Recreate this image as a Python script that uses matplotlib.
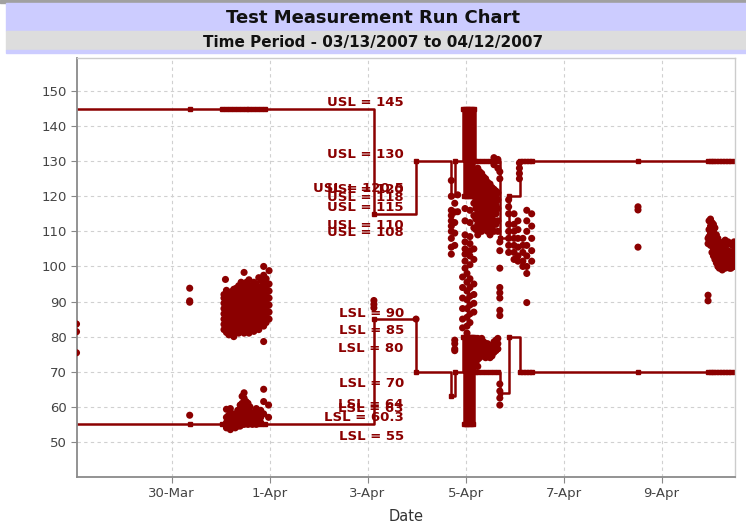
import datetime as dt
import matplotlib
matplotlib.use('Agg')
import matplotlib.pyplot as plt
import matplotlib.dates as mdates
from matplotlib.patches import Rectangle

# ---- data (time = days after 28-Mar-2007 00:00) ----
base = mdates.date2num(dt.datetime(2007, 3, 28))

# measurement points, grouped by time column
left_t = [0.06, 2.37]
left_v = [[83.6, 81.4, 75.4], [93.8, 90.2, 89.8, 57.6]]

upper_t = [3.07, 3.10, 3.12, 3.17, 3.22, 3.27, 3.32, 3.37, 3.42, 3.48, 3.53, 3.58,
           3.63, 3.68, 3.73, 3.78, 3.83, 3.88, 3.93, 3.99]
upper_v = [
    [82, 83.5, 85, 86.5, 88, 89.5, 91, 92],
    [96.3],
    [81.2, 82.8, 84.2, 85.8, 87.2, 88.8, 90.2, 91.8, 93.2],
    [80.5, 82, 83.5, 85, 86.5, 88, 89.5, 91, 92.5],
    [80.8, 82.2, 83.8, 85.2, 86.8, 88.2, 89.8, 91.2, 92.8],
    [80, 81.5, 83, 84.5, 86, 87.5, 89, 90.5, 92, 93.5],
    [81.8, 83.2, 84.8, 86.2, 87.8, 89.2, 90.8, 92.2, 93.8],
    [81, 82.5, 84, 85.5, 87, 88.5, 90, 91.5, 93, 94.5],
    [81.8, 83.2, 84.8, 86.2, 87.8, 89.2, 90.8, 92.2, 93.8, 95.5],
    [81, 82.5, 84, 85.5, 87, 88.5, 90, 91.5, 93, 95, 98.3],
    [81.8, 83.2, 84.8, 86.2, 87.8, 89.2, 90.8, 92.2, 93.8, 95.5],
    [81, 82.5, 84, 85.5, 87, 88.5, 90, 91.5, 93, 94.5, 96.2],
    [82.2, 83.8, 85.2, 86.8, 88.2, 89.8, 91.2, 92.8, 94.5],
    [81.5, 83, 84.5, 86, 87.5, 89, 90.5, 92, 93.5, 95.5],
    [82.8, 84.2, 85.8, 87.2, 88.8, 90.2, 91.8, 93.2, 95],
    [82, 83.5, 85, 86.5, 88, 89.5, 91, 92.5, 94, 96.8],
    [83.5, 85.2, 86.8, 88.2, 89.8, 91.2, 92.8, 94.2, 96],
    [83, 84.5, 86, 87.5, 89, 90.5, 92, 93.5, 95, 97.5, 78.6, 100],
    [84, 86, 88, 90, 92, 94, 96.5],
    [85, 87, 89, 91, 93, 95, 98.8],
]

lower_t = [3.12, 3.16, 3.20, 3.25, 3.30, 3.35, 3.40, 3.44, 3.48, 3.52, 3.56, 3.60,
           3.65, 3.69, 3.73, 3.78, 3.82, 3.88, 3.98]
lower_v = [
    [54, 55.5, 57, 59.3],
    [54.5, 56, 57.5],
    [53.5, 55, 56.5, 58, 59.5],
    [54.5, 56, 58],
    [54, 55.5, 57],
    [54.5, 56, 57.5, 59],
    [54.5, 56, 57.5, 59, 60.5],
    [55, 56.5, 58, 59.5, 61, 63],
    [55, 56.5, 58, 59.5, 61, 62.5, 64],
    [55.5, 57, 58.5, 60, 61.5],
    [55, 56.5, 58, 59.5, 61],
    [55.5, 57, 58.5, 60],
    [55, 56.5, 58],
    [55.5, 57, 58.5],
    [55, 56.5, 58, 59.5],
    [55.5, 57, 58.5],
    [55.5, 57, 59],
    [58, 61.5, 65],
    [57, 60.5],
]

mid_t = [6.13, 6.99]
mid_v = [[90.3, 89.2, 88.2], [85]]

center_t = [7.71, 7.78, 7.84, 7.94, 7.99, 8.03, 8.09, 8.17, 8.21, 8.25, 8.29, 8.33,
            8.37, 8.41, 8.45, 8.50, 8.54, 8.58, 8.62, 8.66, 8.70, 8.88, 8.99, 9.07,
            9.10, 9.17, 9.25, 9.35]
center_v = [
    [124.5, 120, 116, 114.5, 113, 111.5, 110, 108, 105.5, 103.5],
    [118, 115.5, 112.5, 109.5, 106, 79, 78, 76.5, 76],
    [120.4, 115.6],
    [97, 94, 91, 88, 85, 82.5],
    [116.5, 113, 109, 107, 105, 103.5, 101.5, 99.5],
    [98, 95.5, 93, 90.5, 88, 85.5, 83, 81],
    [116, 112.5, 108.5, 106.5, 104.5, 103, 100.5, 96.5, 94, 91.5, 89, 86.5, 84],
    [118, 114.5, 111, 105, 102, 95, 92, 89.5, 87],
    [127, 125, 123, 121, 119, 116.5, 113.5, 110.5, 78.5, 76.5, 74.5, 72.5],
    [128, 126, 124, 122, 120, 118, 115, 112, 109, 79.5, 77.5, 75.5, 73.5, 71.5],
    [127, 125.5, 123.5, 121.5, 119.5, 117, 114, 111, 78.5, 76, 74],
    [126.5, 124.5, 122.5, 120.5, 118.5, 116, 113, 110, 79.5, 77, 75],
    [125.5, 124, 122, 120, 118, 115, 112, 78.5, 77, 75],
    [125, 123, 121, 119, 117, 114, 111, 78, 76, 74],
    [124, 122.5, 120.5, 118.5, 116, 113, 110, 78, 76.5, 74.5],
    [123.5, 121.5, 119.5, 117.5, 115, 112, 109, 77.5, 75.5, 74],
    [122.5, 121, 119, 117, 114, 111, 77.5, 76, 74.5],
    [131, 129, 122, 120, 118, 116, 113, 110, 78.5, 77, 75.5],
    [121.5, 120, 117.5, 115, 112, 79, 77.5, 76],
    [130.5, 128, 121, 119, 116.5, 113, 110, 79.5, 78, 76.5],
    [127, 125, 107, 104.5, 99.5, 94, 92.5, 91, 87.5, 86, 66.5, 64.5, 62.5, 60.5],
    [119, 117, 115, 112, 110, 108, 106, 104],
    [115, 112, 110, 108, 106, 104, 102],
    [113, 110.5, 108, 105.5, 103, 101.5],
    [129.5, 128, 126.5, 125],
    [108, 106, 104, 101.5, 100],
    [116, 113, 110, 106, 103, 100, 98, 89.7],
    [115, 111.5, 108, 104.5, 101.5],
]

right_t = [11.52, 12.95, 12.97, 13.00, 13.03, 13.06, 13.09, 13.12, 13.15, 13.18, 13.21,
           13.24, 13.27, 13.30, 13.33, 13.36, 13.39, 13.42, 13.45, 13.48]
right_v = [
    [117, 116.1, 105.5],
    [108, 106.5, 91.8, 90.2],
    [113, 110.5, 108.5],
    [113.5, 111.5, 109.5, 107.5, 106],
    [112.5, 110.5, 108.5, 106.5, 104],
    [112, 110, 107, 105, 103],
    [111, 108.5, 106, 104, 102],
    [109, 107, 104.5, 102.5, 101],
    [108, 106, 103.5, 101.5, 100],
    [107, 105, 103, 101, 99.5],
    [106, 104, 102, 100],
    [106.5, 104.5, 102.5, 100.5, 99],
    [107, 104.5, 102, 100],
    [107.5, 105.5, 103, 101, 99.5],
    [106.5, 104, 102, 100],
    [107, 104.5, 102.5, 100.5],
    [106.5, 104, 101.5, 99.5],
    [106.5, 104, 101.5, 99.5],
    [106, 103.5, 101],
    [107, 104.5, 102, 100],
]

# spec limits at each measurement time
burst_t = [7.94, 7.96, 7.98, 8.00, 8.02, 8.04, 8.06, 8.08, 8.10, 8.12, 8.14, 8.16, 8.18]
limit_t = ([0.0, 2.37, 3.03, 3.11, 3.19, 3.27, 3.35, 3.43, 3.51, 3.59, 3.67, 3.75, 3.83, 3.91,
            6.13, 6.99, 7.71, 7.79] + burst_t +
           [8.19, 8.25, 8.33, 8.41, 8.50, 8.58, 8.66, 8.70, 8.88, 9.11, 9.17, 9.23, 9.29, 9.35,
            11.52, 12.95, 13.00, 13.06, 13.12, 13.18, 13.24, 13.30, 13.36, 13.42, 13.5])
usl_v = ([145] * 14 + [115, 130, 120, 130] + [145, 120] * 6 + [145] +
         [130] * 7 + [108, 120] + [130] * 5 + [130] * 11)
lsl_v = ([55] * 14 + [85, 70, 63, 70] + [80, 55] * 6 + [80] +
         [70] * 7 + [64, 80] + [70] * 5 + [70] * 11)

usl_labels = [145, 130, 120.5, 120, 118, 115, 110, 108]
lsl_labels = [90, 85, 80, 70, 64, 63, 60.3, 55]
label_t = 6.74

date_ticks = [2, 4, 6, 8, 10, 12]
red = '#8b0000'


def flatten(cols_t, cols_v):
    t, v = [], []
    for ti, vs in zip(cols_t, cols_v):
        t += [base + ti] * len(vs)
        v += vs
    return t, v


pts_t, pts_v = [], []
for ct, cv in [(left_t, left_v), (upper_t, upper_v), (lower_t, lower_v),
               (mid_t, mid_v), (center_t, center_v), (right_t, right_v)]:
    a, b = flatten(ct, cv)
    pts_t += a
    pts_v += b

lim_t = [base + t for t in limit_t]

# ---- figure ----
fig = plt.figure(figsize=(7.46, 5.25), dpi=100)
W, H = 746, 525


def band(y0, y1, color, x0=0):
    fig.patches.append(Rectangle((x0 / W, 1 - y1 / H), 1 - x0 / W, (y1 - y0) / H,
                                 transform=fig.transFigure, color=color, zorder=0))


band(0, 3, '#a0a0a0')
band(3, 31, '#ccccff', 6)
band(31, 50, '#dddddd', 6)
band(50, 53, '#ccccff', 6)
fig.text(0.5, 1 - 18 / H, 'Test Measurement Run Chart', ha='center', va='center',
         fontsize=13, fontweight='bold', color='#111111')
fig.text(0.5, 1 - 42 / H, 'Time Period - 03/13/2007 to 04/12/2007', ha='center',
         va='center', fontsize=11, fontweight='bold', color='#111111')

ax = fig.add_axes([77 / W, 1 - 477 / H, (735 - 77) / W, (477 - 58) / H])
ax.set_axisbelow(True)

ax.plot(lim_t, usl_v, drawstyle='steps-post', color=red, lw=1.8,
        marker='s', ms=2.5, zorder=2)
ax.plot(lim_t, lsl_v, drawstyle='steps-post', color=red, lw=1.8,
        marker='s', ms=2.5, zorder=2)
ax.scatter(pts_t, pts_v, s=26, c=red, edgecolors='none', zorder=3)

for val in usl_labels:
    ax.annotate(f'USL = {val:g}', xy=(base + label_t, val), xytext=(0, 2),
                textcoords='offset points', ha='right', va='baseline',
                fontsize=9.5, fontweight='bold', color=red, zorder=4)
for val in lsl_labels:
    ax.annotate(f'LSL = {val:g}', xy=(base + label_t, val), xytext=(0, -11),
                textcoords='offset points', ha='right', va='baseline',
                fontsize=9.5, fontweight='bold', color=red, zorder=4)

ax.set_xlim(base + 0.07, base + 13.5)
ax.set_ylim(40, 159.4)
ax.set_yticks(range(50, 151, 10))
ax.set_xticks([base + d for d in date_ticks])
ax.xaxis.set_major_formatter(mdates.DateFormatter('%-d-%b'))

ax.grid(True, color='#d0d0d0', linestyle=(0, (3, 3)), linewidth=0.8)
ax.tick_params(direction='out', length=4, color='#888888', labelcolor='#444444',
               labelsize=9.5)
for s in ['left', 'bottom']:
    ax.spines[s].set_color('#8a8a8a')
    ax.spines[s].set_linewidth(1.3)
for s in ['top', 'right']:
    ax.spines[s].set_color('#cccccc')
    ax.spines[s].set_linewidth(1)

ax.set_xlabel('Date', fontsize=10.5, color='#333333', labelpad=6)

fig.savefig('out.png', dpi=100)
